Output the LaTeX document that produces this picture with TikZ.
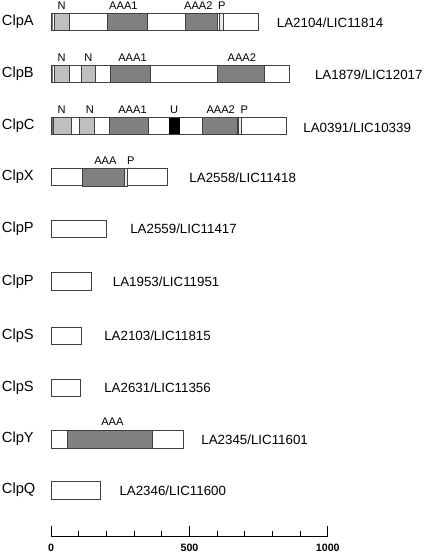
\documentclass[tikz,border=0pt]{standalone}
\usepackage{fontspec}
\setmainfont{Liberation Sans}
\usetikzlibrary{positioning}

\tikzset{
  protein/.style={draw=black!75, fill=white, line width=0.6pt},
  ndom/.style={draw=black!75, fill=black!25, line width=0.5pt},
  aaadom/.style={draw=black!75, fill=black!50, line width=0.5pt},
  udom/.style={draw=black, fill=black, line width=0.5pt},
  pdom/.style={draw=black!75, fill=black!8, line width=0.5pt},
  stripe/.style={draw=none, fill=black!55},
  protname/.style={anchor=west, inner sep=0pt, font=\fontsize{11}{13}\selectfont},
  accname/.style={anchor=west, inner sep=0pt, font=\fontsize{10}{12}\selectfont},
  domname/.style={inner sep=0pt, font=\fontsize{8.3}{10}\selectfont},
  scalenum/.style={inner sep=0pt, font=\fontsize{8}{10}\selectfont\bfseries}
}
% box of one domain: style, start, end, row centre
\newcommand{\domain}[4]{\draw[#1] (#2,#4-8.7) rectangle (#3,#4+8.7);}

\begin{document}
\begin{tikzpicture}[x=0.20745pt, y=-0.75pt]
  \useasboundingbox (-185.1,0) rectangle (1351.4,552);

  % ClpA
  \node[protname] (nameA) at (-179,22) {ClpA};
  \domain{protein}{0}{749}{22}
  \domain{stripe}{0}{8}{22}
  \domain{ndom}{10}{64}{22}
  \domain{aaadom}{203}{347}{22}
  \domain{aaadom}{484}{600}{22}
  \domain{pdom}{607}{622}{22}
  \draw[draw=black!75, line width=0.6pt] (0,13.3) rectangle (749,30.7);
  \node[domname] (a1) at (38,5.5) {N};
  \node[domname] (a2) at (261,5.5) {AAA1};
  \node[domname] (a3) at (532,5.5) {AAA2};
  \node[domname] (a4) at (617,5.5) {P};
  \node[accname] (accA) at (815,23) {LA2104/LIC11814};

  % ClpB
  \node[protname] (nameB) at (-179,74) {ClpB};
  \domain{protein}{0}{860}{74}
  \domain{stripe}{0}{8}{74}
  \domain{ndom}{10}{64}{74}
  \domain{ndom}{108}{161}{74}
  \domain{aaadom}{215}{360}{74}
  \domain{aaadom}{600}{771}{74}
  \draw[draw=black!75, line width=0.6pt] (0,65.3) rectangle (860,82.7);
  \node[domname] (b1) at (38,58) {N};
  \node[domname] (b2) at (134,58) {N};
  \node[domname] (b3) at (294,58) {AAA1};
  \node[domname] (b4) at (689,58) {AAA2};
  \node[accname] (accB) at (953,75) {LA1879/LIC12017};

  % ClpC
  \node[protname] (nameC) at (-179,125.7) {ClpC};
  \domain{protein}{0}{849}{125.7}
  \domain{stripe}{0}{8}{125.7}
  \domain{ndom}{8}{72}{125.7}
  \domain{ndom}{102}{155}{125.7}
  \domain{aaadom}{210}{351}{125.7}
  \domain{udom}{426}{463}{125.7}
  \domain{aaadom}{548}{674}{125.7}
  \domain{pdom}{676}{689}{125.7}
  \draw[draw=black!75, line width=0.6pt] (0,117) rectangle (849,134.4);
  \node[domname] (c1) at (38,110) {N};
  \node[domname] (c2) at (140,110) {N};
  \node[domname] (c3) at (294,110) {AAA1};
  \node[domname] (c4) at (444,110) {U};
  \node[domname] (c5) at (613,110) {AAA2};
  \node[domname] (c6) at (698,110) {P};
  \node[accname] (accC) at (911,128) {LA0391/LIC10339};

  % ClpX
  \node[protname] (nameX) at (-179,177.2) {ClpX};
  \domain{protein}{0}{420}{177.2}
  \domain{aaadom}{112}{263}{177.2}
  \domain{pdom}{264}{274}{177.2}
  \node[domname] (x1) at (196,161) {AAA};
  \node[domname] (x2) at (288,161) {P};
  \node[accname] (accX) at (499,178) {LA2558/LIC11418};

  % boxes without domains
  \foreach \len/\yc/\pname/\acc/\accx [count=\i] in
      {198/229/ClpP/{LA2559/LIC11417}/285,
       146/281.3/ClpP/{LA1953/LIC11951}/222,
       110/335.8/ClpS/{LA2103/LIC11815}/191,
       107/387.8/ClpS/{LA2631/LIC11356}/191} {
    \node[protname] (plain\i) at (-179,\yc) {\pname};
    \domain{protein}{0}{\len}{\yc}
    \node[accname] (plainacc\i) at (\accx,\yc) {\acc};
  }

  % ClpY
  \node[protname] (nameY) at (-179,439.2) {ClpY};
  \domain{protein}{0}{478}{439.2}
  \domain{aaadom}{60}{367}{439.2}
  \node[domname] (y1) at (221,421.7) {AAA};
  \node[accname] (accY) at (542,440) {LA2345/LIC11601};

  % ClpQ
  \node[protname] (nameQ) at (-179,490.2) {ClpQ};
  \domain{protein}{0}{179}{490.2}
  \node[accname] (accQ) at (246,491) {LA2346/LIC11600};

  % Scale
  \draw[line width=0.75pt] (0,536.7) -- (1000,536.7);
  \foreach \t in {100,200,300,400,600,700,800,900}
    \draw[line width=0.75pt] (\t,536.7) -- (\t,531);
  \foreach \t in {0,500,1000} {
    \draw[line width=0.75pt] (\t,536.7) -- (\t,525.7);
    \node[scalenum] (tick\t) at (\t,548) {\t};
  }
\end{tikzpicture}
\end{document}
